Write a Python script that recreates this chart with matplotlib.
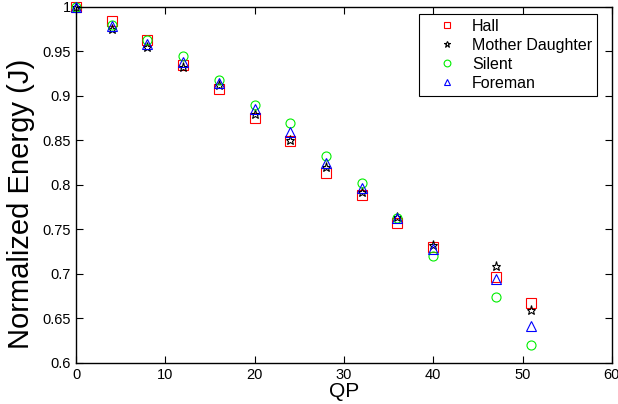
import numpy as np
import matplotlib
matplotlib.use("Agg")
import matplotlib.pyplot as plt

plt.rcParams['font.family'] = ['Liberation Sans', 'DejaVu Sans']

qp = [0, 4, 8, 12, 16, 20, 24, 28, 32, 36, 40, 47, 51]
hall = [1.0, 0.984, 0.963, 0.935, 0.908, 0.875, 0.849, 0.813, 0.789, 0.757, 0.730, 0.697, 0.667]
mother_daughter = [1.0, 0.975, 0.955, 0.932, 0.912, 0.880, 0.850, 0.820, 0.792, 0.764, 0.733, 0.709, 0.660]
silent = [1.0, 0.980, 0.963, 0.945, 0.918, 0.890, 0.869, 0.832, 0.802, 0.763, 0.720, 0.674, 0.620]
foreman = [1.0, 0.978, 0.958, 0.938, 0.915, 0.885, 0.860, 0.825, 0.797, 0.763, 0.728, 0.694, 0.641]

fig = plt.figure(figsize=(6.18, 4.04), dpi=100)
ax = fig.add_axes([0.123, 0.1015, 0.867, 0.8815])

mk = dict(linestyle='none', markerfacecolor='none', markersize=6.5,
          markeredgewidth=0.8, clip_on=False)
ax.plot(qp, hall, 's', color='#ff0000', label='Hall', **mk)
ax.plot(qp, mother_daughter, '*', color='k', label='Mother Daughter', **mk)
ax.plot(qp, silent, 'o', color='#00ee00', label='Silent', **mk)
ax.plot(qp, foreman, '^', color='#0000ff', label='Foreman', **mk)

ax.set_xlim(0, 60)
ax.set_ylim(0.6, 1.0)
ax.set_xticks(range(0, 61, 10))
yt = np.arange(0.6, 1.001, 0.05)
ax.set_yticks(yt)
ax.set_yticklabels(['0.6', '0.65', '0.7', '0.75', '0.8', '0.85', '0.9', '0.95', '1'])
ax.tick_params(direction='in', top=True, right=True, labelsize=10.5, length=5, width=0.8)
for s in ax.spines.values():
    s.set_linewidth(1.0)

ax.set_xlabel('QP', fontsize=15, labelpad=0)
ax.set_ylabel('Normalized Energy (J)', fontsize=21)
ax.yaxis.set_label_coords(-0.077, 0.447)

leg = ax.legend(loc='upper right', fontsize=11.5, fancybox=False, framealpha=1,
                edgecolor='k', borderpad=0.3, labelspacing=0.25, handletextpad=0.1,
                handlelength=2.9, markerscale=0.75, borderaxespad=0,
                bbox_to_anchor=(0.972, 0.98))
leg.get_frame().set_linewidth(0.8)

fig.savefig('out.png', dpi=100)
